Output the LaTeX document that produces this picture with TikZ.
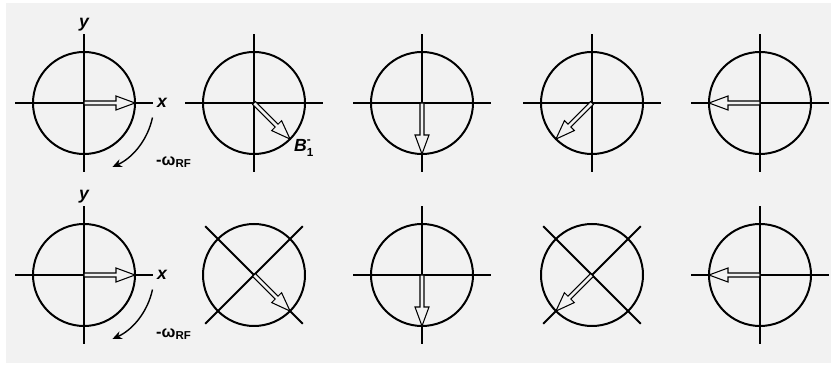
\documentclass[tikz,border=0pt]{standalone}
\usepackage{fontspec}
\setmainfont{Liberation Sans}
\usepackage{tikz}
\usetikzlibrary{arrows.meta, calc}

\begin{document}
\begin{tikzpicture}[x=0.03cm,y=0.03cm,>=Stealth,
   axis/.style={line width=1.6pt,black},
   ring/.style={line width=1.7pt,black},
   vec/.style={line width=0.9pt,black,fill=gray!10,line join=miter},
   rot/.style={line width=1.2pt,-{Stealth[length=8pt,width=7pt]}},
   lbl/.style={font=\fontsize{15}{17}\selectfont\bfseries\itshape,inner sep=0pt}]
  \useasboundingbox (0,0) rectangle (831,367);
  % background panel
  \fill[gray!10] (6,4) rectangle (831,364);
  % frames: x-pos / row y / arrow angle / axes tilt
  \foreach \cx/\cy/\ang/\tilt in {84/264/0/0, 254/264/-45/0, 422/264/-90/0,
        592/264/-135/0, 760/264/180/0, 84/92/0/0, 254/92/-45/45, 422/92/-90/0,
        592/92/-135/45, 760/92/180/0}{
    \begin{scope}[shift={(\cx,\cy)}]
      \draw[ring] (0,0) circle (51);
      \draw[axis,rotate=\tilt] (-69,0) -- (69,0);
      \draw[axis,rotate=\tilt] (0,-69) -- (0,69);
      % hollow field vector
      \draw[vec,rotate=\ang] (0,-2) -- (32,-2) -- (32,-7) -- (51,0)
        -- (32,7) -- (32,2) -- (0,2) -- cycle;
    \end{scope}
  }
  % axis labels and rotation of the frame
  \foreach \cy/\r in {264/1, 92/2}{
    \coordinate (c\r) at (84,\cy);
    \node[lbl] (lx\r) at ($(c\r)+(78,0)$) {x};
    \node[lbl] (ly\r) at ($(c\r)+(0,78)$) {y};
    \draw[rot] ($(c\r)+(-12:70)$) arc[start angle=-12,end angle=-66,radius=70];
    \node[font=\fontsize{14}{16}\selectfont\bfseries,inner sep=0pt,anchor=west]
      (lw\r) at ($(c\r)+(72,-59)$) {-ω\textsubscript{RF}};
  }
  % rotating-frame field label
  \node[lbl,anchor=west] (lb) at (294,219)
    {B\rlap{\raisebox{7pt}{\fontsize{10}{10}\selectfont\upshape -}}%
     \raisebox{-3.5pt}{\fontsize{10}{10}\selectfont\upshape 1}};
\end{tikzpicture}
\end{document}
